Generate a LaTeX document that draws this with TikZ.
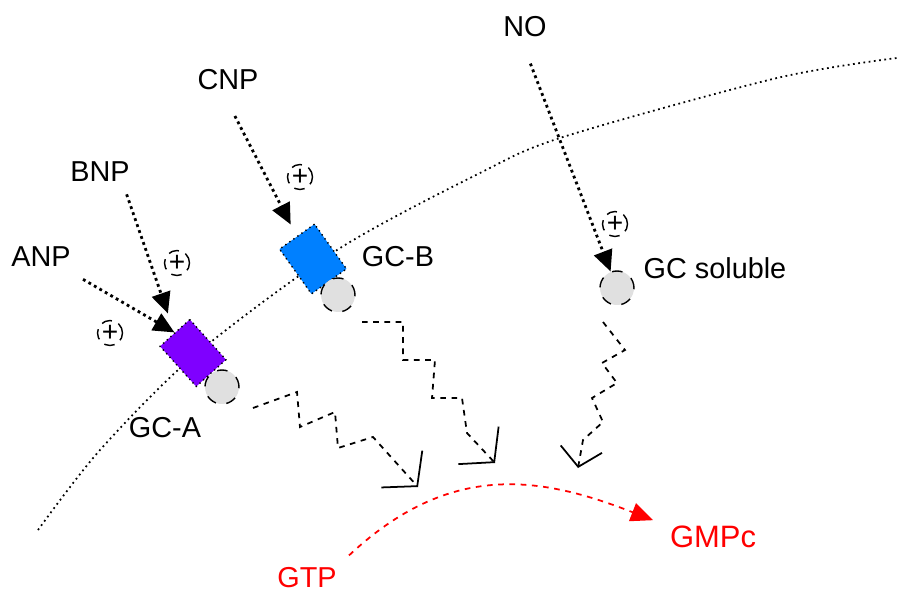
\documentclass[tikz,border=0pt]{standalone}
\usepackage{fontspec}
\setmainfont{Liberation Sans}
\usepackage{xcolor}
\usetikzlibrary{arrows.meta}
\usetikzlibrary{positioning}

\definecolor{gcaviolett}{RGB}{127,0,255}
\definecolor{gcbblau}{RGB}{0,128,255}
\definecolor{katgrau}{RGB}{224,224,224}

\begin{document}
\begin{tikzpicture}[
  font=\fontsize{8.2pt}{9.8pt}\selectfont,
  membran/.style={densely dotted, line width=0.5pt},
  signal/.style={densely dotted, line width=0.8pt, -{Triangle[length=2.1mm,width=1.9mm]}},
  kaskade/.style={dash pattern=on 1.6pt off 1.6pt, line width=0.5pt, -{Straight Barb[length=2.3mm,width=5.5mm]}},
  rezeptor/.style={draw, densely dotted, inner sep=0pt, minimum width=4mm, minimum height=5.4mm},
  kat/.style={circle, draw, dashed, fill=katgrau, inner sep=0pt, minimum size=3.4mm},
  plus/.style={circle, draw, densely dashed, inner sep=0pt, minimum size=2.5mm, font=\fontsize{8pt}{8pt}\selectfont},
]
\useasboundingbox (0,0) rectangle (8.97,5.91);

% Membran
\draw[membran] plot[smooth] coordinates {(0.38,0.61) (1.00,1.41) (1.95,2.36) (3.37,3.41) (4.80,4.18) (5.63,4.54) (7.77,5.13) (8.97,5.33)};

% Rezeptoren
\node[rezeptor, fill=gcaviolett, rotate=42] (gcA) at (1.93,2.38) {};
\node[rezeptor, fill=gcbblau, rotate=35.5, minimum width=4.3mm, minimum height=5.5mm] (gcB) at (3.13,3.32) {};
\node[kat] (katA) at (2.22,2.04) {};
\node[kat] (katB) at (3.38,2.96) {};
\node[kat] (sol) at (6.17,3.03) {};

% Beschriftungen
\node (anp) at (0.41,3.34) {ANP};
\node (bnp) at (1.00,4.19) {BNP};
\node (cnp) at (2.28,5.11) {CNP};
\node (no) at (5.25,5.64) {NO};
\node (lgcA) at (1.65,1.63) {GC-A};
\node (lgcB) at (3.98,3.34) {GC-B};
\node (lsol) at (7.15,3.23) {GC soluble};
\node[red] (gtp) at (3.07,0.13) {GTP};
\node[red, font=\fontsize{8.8pt}{10pt}\selectfont] (gmpc) at (7.13,0.54) {GMPc};

% Aktivierung
\node[plus] (pA) at (1.10,2.58) {+};
\node[plus] (pB) at (1.77,3.28) {+};
\node[plus] (pC) at (3.00,4.14) {+};
\node[plus] (pN) at (6.15,3.67) {+};

% Liganden
\draw[signal] (anp.south east) -- (gcA.north);
\draw[signal, shorten >=2mm] (bnp.-40) -- (gcA.north);
\draw[signal, shorten <=1.5mm, shorten >=1.3mm] (cnp.south) -- (gcB.north);
\draw[signal, shorten <=1.5mm] (no.south) -- (sol);

% Kaskaden
\coordinate (zA) at (2.53,1.83);
\coordinate (tipA) at (4.18,1.04);
\coordinate (zB) at (3.62,2.69);
\coordinate (tipB) at (4.95,1.28);
\coordinate (zS) at (6.03,2.69);
\coordinate (tipS) at (5.78,1.23);
\draw[kaskade] (zA) -- ++(0.44,0.16) -- ++(0.03,-0.35) -- ++(0.35,0.15) -- ++(0.03,-0.36) -- ++(0.35,0.11) -- (tipA);
\draw[kaskade] (zB) -- ++(0.41,0) -- ++(0,-0.38) -- ++(0.32,0) -- ++(-0.03,-0.38) -- ++(0.30,0) -- ++(0.05,-0.35) -- (tipB);
\draw[kaskade, -{Straight Barb[length=1.8mm,width=4.2mm]}] (zS) -- ++(0.22,-0.28) -- ++(-0.23,-0.13) -- ++(0.15,-0.20) -- ++(-0.25,-0.15) -- ++(0.11,-0.24) -- ++(-0.20,-0.18) -- (tipS);

% GTP -> GMPc
\draw[red, dash pattern=on 1.6pt off 1.6pt, line width=0.5pt, -{Triangle[length=2.2mm,width=1.9mm]}, shorten >=0.5mm]
  (gtp.north east) .. controls (4.50,1.30) and (5.40,1.15) .. ([yshift=1.5mm]gmpc.west);

\end{tikzpicture}
\end{document}
